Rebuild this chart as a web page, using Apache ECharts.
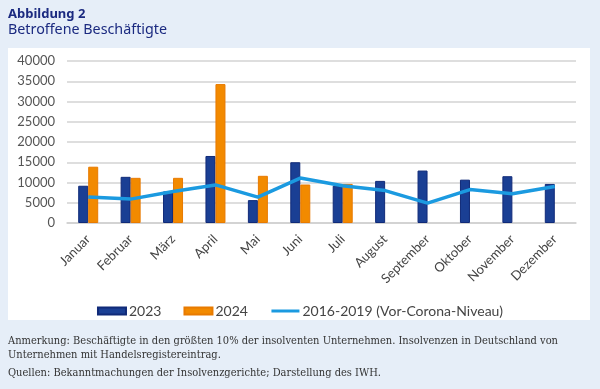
<!DOCTYPE html>
<html><head><meta charset="utf-8">
<script src="https://cdn.jsdelivr.net/npm/echarts@6/dist/echarts.min.js"></script>
<style>html,body{margin:0;padding:0;background:#e6eef8;}#c{width:600px;height:389px;}</style>
</head><body><div id="c"></div>
<script>
const categories = ['Januar','Februar','März','April','Mai','Juni','Juli','August','September','Oktober','November','Dezember'];
const values2023 = [9200, 11400, 7800, 16550, 5650, 15000, 9200, 10400, 12950, 10700, 11550, 9650];
const values2024 = [13900, 11150, 11150, 34300, 11650, 9500, 9650, null, null, null, null, null];
const valuesPre = [6400, 5900, 7800, 9400, 6400, 11100, 9200, 8000, 4900, 8250, 7200, 9000];
const yTicks = [0, 5000, 10000, 15000, 20000, 25000, 30000, 35000, 40000];

const chart = echarts.init(document.getElementById('c'), null, {renderer:'canvas'});
const font = 'Lato';
chart.setOption({
  backgroundColor: '#e6eef8',
  animation: false,
  textStyle: {fontFamily: font},
  graphic: [
    {type:'rect', shape:{x:8, y:48, width:582, height:272}, style:{fill:'#ffffff'}, z:-10},
    {type:'text', left:8, top:8, style:{text:'Abbildung 2', font:'bold 13px "Noto Sans"', fill:'#1b2a80'}},
    {type:'text', left:8, top:23, style:{text:'Betroffene Beschäftigte', font:'14.3px "Noto Sans"', fill:'#1b2a80'}},
    {type:'text', left:8, top:334, style:{text:'Anmerkung: Beschäftigte in den größten 10% der insolventen Unternehmen. Insolvenzen in Deutschland von\nUnternehmen mit Handelsregistereintrag.', font:'11px "DejaVu Serif Condensed"', fill:'#333333', lineHeight:14}},
    {type:'text', left:8, top:368, style:{text:'Quellen: Bekanntmachungen der Insolvenzgerichte; Darstellung des IWH.', font:'11px "DejaVu Serif Condensed"', fill:'#333333'}}
  ],
  grid: {left:67, right:24, top:61, bottom:166, containLabel:false},
  legend: {
    top: 299, left: 'center', itemGap: 22, itemWidth: 28, itemHeight: 7,
    textStyle: {fontSize: 14, color: '#444444', fontFamily: font, padding:[0,0,0,-2]},
    data: [
      {name:'2023', icon:'rect'},
      {name:'2024', icon:'rect'},
      {name:'2016-2019 (Vor-Corona-Niveau)', itemStyle:{opacity:0}, lineStyle:{width:3}}
    ]
  },
  xAxis: {
    type: 'category', data: categories,
    axisTick: {show:false},
    axisLine: {lineStyle:{color:'#d0d0d0', width:1.5}},
    axisLabel: {rotate: 45, fontSize: 13, color: '#444', margin: 14, interval: 0}
  },
  yAxis: {
    type: 'value', min: 0, max: 40000, interval: 5000,
    axisLabel: {fontSize: 13, color: '#555', margin: 12,
      formatter: v => yTicks.includes(v) ? String(v) : ''},
    splitLine: {lineStyle:{color:'#d3d3d3', width:1.5}},
    axisLine: {show:false}, axisTick: {show:false}
  },
  series: [
    {name:'2023', type:'bar', data: values2023, barWidth: 10, barGap: '0%',
      itemStyle:{color:'#1a3f94', borderColor:'#102a78', borderWidth:1}},
    {name:'2024', type:'bar', data: values2024, barWidth: 10,
      itemStyle:{color:'#f28a00', borderColor:'#e87a00', borderWidth:1}},
    {name:'2016-2019 (Vor-Corona-Niveau)', type:'line', data: valuesPre,
      showSymbol:false, symbol:'none', lineStyle:{color:'#1b9ae0', width:3.5}, itemStyle:{color:'#1b9ae0'}, z:5}
  ]
});
</script></body></html>
